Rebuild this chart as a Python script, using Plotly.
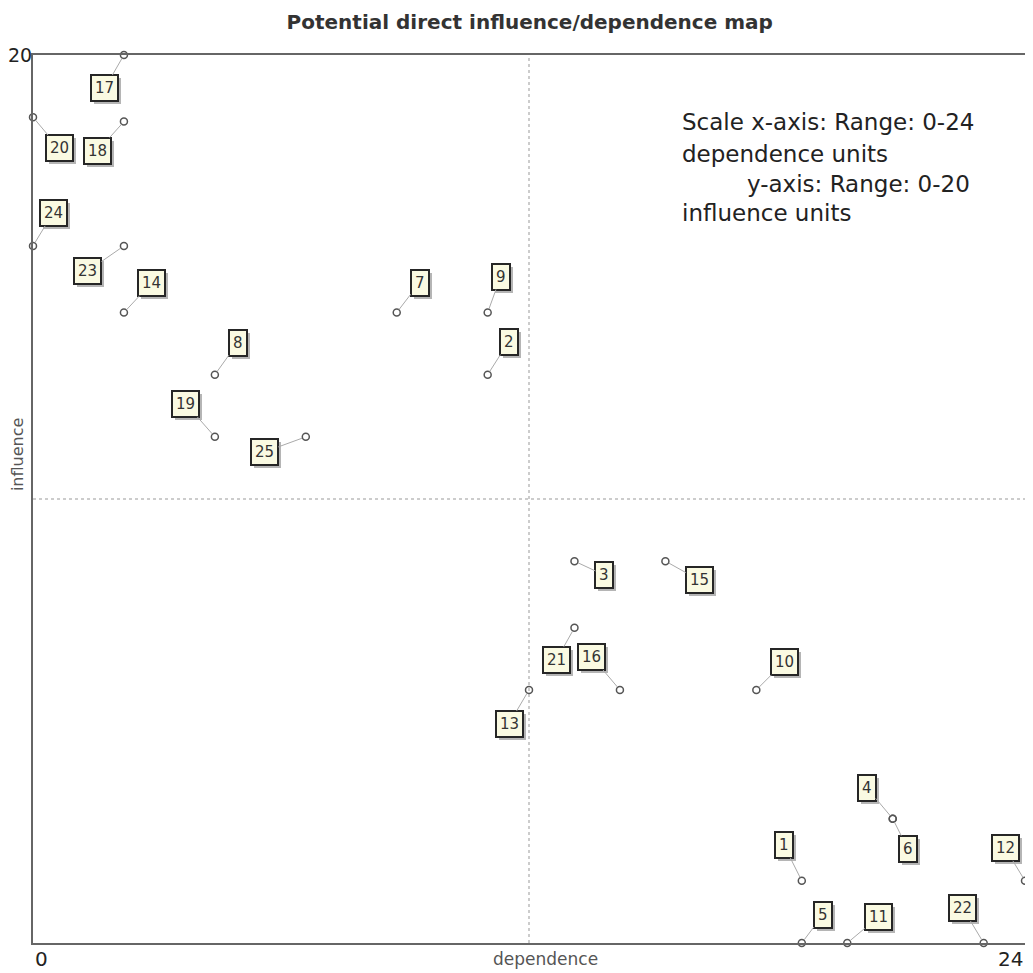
import plotly.graph_objects as go

# ---- data ----
labels = ["17", "20", "18", "24", "23", "14", "8", "19", "25", "7", "9", "2", "3",
          "15", "21", "16", "13", "10", "4", "6", "1", "5", "11", "22", "12"]
dependence = [2.2, 0.0, 2.2, 0.0, 2.2, 2.2, 4.4, 4.4, 6.6, 8.8, 11.0, 11.0, 13.1,
              15.3, 13.1, 14.2, 12.0, 17.5, 20.8, 20.8, 18.6, 18.6, 19.7, 23.0, 24.0]
influence = [20.0, 18.6, 18.5, 15.7, 15.7, 14.2, 12.8, 11.4, 11.4, 14.2, 14.2, 12.8, 8.6,
             8.6, 7.1, 5.7, 5.7, 5.7, 2.8, 2.8, 1.4, 0.0, 0.0, 0.0, 1.4]
# label box offsets from the point (pixels)
label_dx = [-19, 26, -26, 20, -36, 28, 23, -29, -41, 23, 13, 21, 30,
            34, -18, -28, -20, 28, -26, 15, -18, 21, 31, -21, -20]
label_dy = [33, 31, 29, -33, 25, -30, -32, -33, 15, -30, -36, -33, 14,
            19, 32, -33, 34, -28, -31, 30, -36, -28, -26, -35, -33]

x_range = [0, 24]
y_range = [0, 20]
x_ticks = [0, 24]
y_ticks = [20]
x_mid = 12
y_mid = 10

title_text = "Potential direct influence/dependence map"
note_lines = ["Scale x-axis: Range: 0-24", "dependence units",
              "y-axis: Range: 0-20", "influence units"]

# page has an 8px body margin; figure is sized to fill the rest
FIG_W, FIG_H = 1025, 965
ML, MR, MT, MB = 25, 8, 47, 30
PW = FIG_W - ML - MR
PH = FIG_H - MT - MB

fig = go.Figure()
fig.add_trace(go.Scatter(
    x=dependence, y=influence, mode="markers",
    marker=dict(symbol="circle-open", size=7, color="#555555", line=dict(width=1.5)),
    cliponaxis=False, hoverinfo="text", text=labels, showlegend=False,
))

annotations = []
box_font = dict(family="DejaVu Sans", size=15, color="#333333")
for lab, x, y, dx, dy in zip(labels, dependence, influence, label_dx, label_dy):
    # drop shadow (blank text of the same width)
    annotations.append(dict(
        x=x, y=y, xref="x", yref="y", text="&nbsp;&nbsp;" * len(lab), showarrow=True,
        ax=dx + 3, ay=dy + 3, arrowcolor="rgba(0,0,0,0)", arrowwidth=0.1, arrowhead=0,
        font=dict(family="DejaVu Sans", size=15, color="rgba(0,0,0,0)"),
        bgcolor="rgba(90,90,90,0.45)", bordercolor="rgba(0,0,0,0)", borderwidth=2, borderpad=3,
    ))
    annotations.append(dict(
        x=x, y=y, xref="x", yref="y", text=lab, showarrow=True,
        ax=dx, ay=dy, arrowcolor="#aaaaaa", arrowwidth=1, arrowhead=0, standoff=4,
        font=box_font, bgcolor="#fafae2", bordercolor="#262626", borderwidth=2, borderpad=3,
    ))

# tick labels
for v in x_ticks:
    annotations.append(dict(
        x=v, y=0, xref="x", yref="paper", text=str(v), showarrow=False,
        xanchor="left" if v == x_range[0] else "right", yanchor="top", yshift=-2,
        font=dict(family="DejaVu Sans", size=20, color="#222222"),
    ))
for v in y_ticks:
    annotations.append(dict(
        x=0, y=v, xref="paper", yref="y", text=str(v), showarrow=False,
        xanchor="right", yanchor="middle", xshift=0, borderpad=0,
        font=dict(family="DejaVu Sans", size=19, color="#222222"),
    ))

# axis titles
annotations.append(dict(x=0.517, y=0, xref="paper", yref="paper", text="dependence",
                        showarrow=False, yanchor="top", yshift=-4,
                        font=dict(family="DejaVu Sans", size=17, color="#555555")))
annotations.append(dict(x=0, y=0.55, xref="paper", yref="paper", text="influence",
                        showarrow=False, xanchor="right", xshift=-4, textangle=-90,
                        font=dict(family="DejaVu Sans", size=16, color="#555555")))

# note text (page pixel positions converted to paper coords)
note_y = [122, 154, 184, 213]
note_x = [680, 680, 745, 680]
for t, px, py in zip(note_lines, note_x, note_y):
    annotations.append(dict(
        x=(px - 8 - ML) / PW, y=(MT + PH - (py - 8)) / PH, xref="paper", yref="paper",
        text=t, showarrow=False, xanchor="left", yanchor="middle",
        font=dict(family="DejaVu Sans", size=23, color="#222222"),
    ))

shapes = [
    dict(type="line", xref="x", yref="paper", x0=x_mid, x1=x_mid, y0=0, y1=1,
         line=dict(color="#999999", width=1, dash="dot")),
    dict(type="line", xref="paper", yref="y", x0=0, x1=1, y0=y_mid, y1=y_mid,
         line=dict(color="#999999", width=1, dash="dot")),
]

fig.update_layout(
    width=FIG_W, height=FIG_H,
    margin=dict(l=ML, r=MR, t=MT, b=MB),
    paper_bgcolor="white", plot_bgcolor="white",
    title=dict(text="<b>" + title_text + "</b>", x=0.509, xanchor="center", xref="container",
               y=1 - 14 / FIG_H, yanchor="middle",
               font=dict(family="DejaVu Sans", size=20, color="#333333")),
    xaxis=dict(range=x_range, showgrid=False, zeroline=False, showline=True, mirror=True,
               linecolor="#666666", linewidth=2, showticklabels=False, ticks="",
               fixedrange=True),
    yaxis=dict(range=y_range, showgrid=False, zeroline=False, showline=True, mirror=True,
               linecolor="#666666", linewidth=2, showticklabels=False, ticks="",
               automargin=False, fixedrange=True),
    annotations=annotations, shapes=shapes, showlegend=False,
)

fig.write_html("out.html")
